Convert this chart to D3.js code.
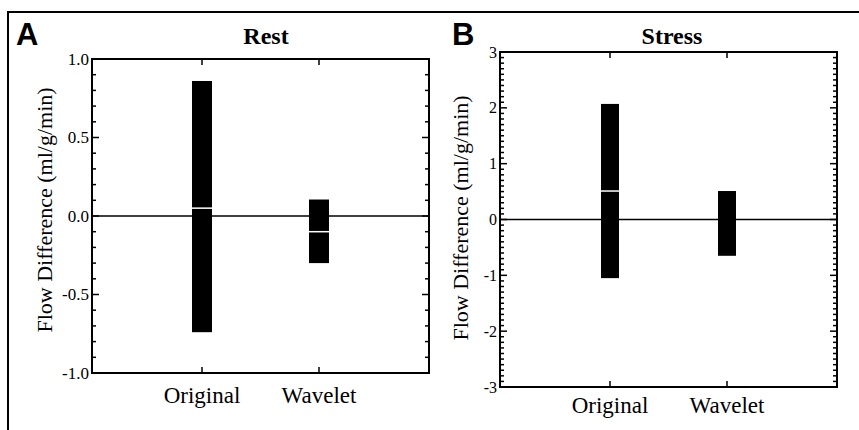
<!DOCTYPE html>
<html>
<head>
<meta charset="utf-8">
<script src="https://cdn.jsdelivr.net/npm/d3@7"></script>
<style>
  body { margin: 0; background: #fff; }
  svg { display: block; font-family: "Liberation Serif", "Times New Roman", Times, serif; }
</style>
</head>
<body>
<div id="chart"></div>
<script>
// categories and box values (top, median, bottom)
const categories = ["Original", "Wavelet"];
const restTop = [0.86, 0.105];
const restMedian = [0.05, -0.1];
const restBottom = [-0.74, -0.30];
const stressTop = [2.07, 0.51];
const stressMedian = [0.51, null];
const stressBottom = [-1.05, -0.65];
const restTicks = [1.0, 0.5, 0.0, -0.5, -1.0];
const stressTicks = [3, 2, 1, 0, -1, -2, -3];

const width = 859, height = 430;
const svg = d3.select("#chart").append("svg")
    .attr("width", width)
    .attr("height", height);

// outer frame (top and left only)
svg.append("path")
    .attr("d", "M8,430V12H859")
    .attr("fill", "none")
    .attr("stroke", "#000")
    .attr("stroke-width", 2);

function panel(opt) {
    const x = d3.scalePoint()
        .domain(categories)
        .range([opt.catX[0], opt.catX[1]]);
    const y = d3.scaleLinear()
        .domain([opt.min, opt.max])
        .range([opt.bottom, opt.top]);

    const g = svg.append("g");

    // letter
    g.append("text")
        .attr("x", opt.letterX).attr("y", 45)
        .attr("font-family", "'Liberation Sans', Arial, sans-serif")
        .attr("font-weight", "bold")
        .attr("font-size", 31)
        .text(opt.letter);

    // title
    g.append("text")
        .attr("x", opt.titleX).attr("y", 44)
        .attr("text-anchor", "middle")
        .attr("font-weight", "bold")
        .attr("font-size", 24)
        .text(opt.title);

    // minor ticks, inward on both sides
    const minor = d3.range(Math.round(opt.min * 10), Math.round(opt.max * 10) + 1).map(d => d / 10);
    g.append("g").selectAll("line.ml")
        .data(minor).enter().append("line")
        .attr("x1", opt.left).attr("x2", d => opt.left + (opt.isMajor(d) ? 7 : opt.minorLen))
        .attr("y1", d => y(d)).attr("y2", d => y(d))
        .attr("stroke", "#000").attr("stroke-width", 1.5);
    g.append("g").selectAll("line.mr")
        .data(minor).enter().append("line")
        .attr("x1", opt.right).attr("x2", d => opt.right - (opt.isMajor(d) ? 7 : opt.minorLen))
        .attr("y1", d => y(d)).attr("y2", d => y(d))
        .attr("stroke", "#000").attr("stroke-width", 1.5);

    // category ticks on top and bottom
    g.append("g").selectAll("line.ct")
        .data(categories).enter().append("line")
        .attr("x1", d => x(d)).attr("x2", d => x(d))
        .attr("y1", opt.top).attr("y2", opt.top + 6)
        .attr("stroke", "#000").attr("stroke-width", 1.5);
    g.append("g").selectAll("line.cb")
        .data(categories).enter().append("line")
        .attr("x1", d => x(d)).attr("x2", d => x(d))
        .attr("y1", opt.bottom).attr("y2", opt.bottom - 6)
        .attr("stroke", "#000").attr("stroke-width", 1.5);

    // y tick labels (plain hyphen minus as in the original)
    g.append("g").selectAll("text")
        .data(opt.ticks).enter().append("text")
        .attr("x", opt.left - 3)
        .attr("y", d => y(d))
        .attr("dy", "0.35em")
        .attr("text-anchor", "end")
        .attr("font-size", opt.tickSize)
        .text(d => opt.fmt(d).replace("\u2212", "-"));

    // category labels
    g.append("g").selectAll("text")
        .data(categories).enter().append("text")
        .attr("x", d => x(d))
        .attr("y", opt.catY)
        .attr("text-anchor", "middle")
        .attr("font-size", 23)
        .text(d => d);

    // y axis title
    g.append("text")
        .attr("transform", `translate(${opt.yTitleX},${opt.yTitleY}) rotate(-90)`)
        .attr("text-anchor", "middle")
        .attr("font-size", 22)
        .text("Flow Difference (ml/g/min)");

    // bars
    const data = categories.map((c, i) => ({c, top: opt.tops[i], med: opt.meds[i], bot: opt.bots[i]}));
    g.append("g").selectAll("rect")
        .data(data).enter().append("rect")
        .attr("x", d => x(d.c) - opt.barW / 2)
        .attr("width", opt.barW)
        .attr("y", d => y(d.top))
        .attr("height", d => y(d.bot) - y(d.top))
        .attr("fill", "#000");

    // zero line
    g.append("line")
        .attr("x1", opt.left).attr("x2", opt.right)
        .attr("y1", y(0)).attr("y2", y(0))
        .attr("stroke", "#000").attr("stroke-width", 1.5);

    // medians
    g.append("g").selectAll("line.med")
        .data(data.filter(d => d.med !== null)).enter().append("line")
        .attr("x1", d => x(d.c) - opt.barW / 2).attr("x2", d => x(d.c) + opt.barW / 2)
        .attr("y1", d => y(d.med)).attr("y2", d => y(d.med))
        .attr("stroke", "#fff").attr("stroke-width", 1.5);

    // plot frame
    g.append("rect")
        .attr("x", opt.left).attr("y", opt.top)
        .attr("width", opt.right - opt.left)
        .attr("height", opt.bottom - opt.top)
        .attr("fill", "none")
        .attr("stroke", "#000").attr("stroke-width", 2);
}

panel({
    letter: "A", letterX: 16, title: "Rest", titleX: 266,
    left: 92, right: 429, top: 59, bottom: 373,
    min: -1, max: 1, catX: [202, 319], barW: 20,
    ticks: restTicks, fmt: d3.format(".1f"), tickSize: 17,
    isMajor: d => Math.abs(d * 2 - Math.round(d * 2)) < 1e-6,
    minorLen: 4,
    tops: restTop, meds: restMedian, bots: restBottom,
    catY: 403, yTitleX: 52, yTitleY: 210
});

panel({
    letter: "B", letterX: 452, title: "Stress", titleX: 672,
    left: 500, right: 837, top: 52, bottom: 387,
    min: -3, max: 3, catX: [610, 727], barW: 18,
    ticks: stressTicks, fmt: d3.format("d"), tickSize: 16,
    isMajor: d => Math.abs(d - Math.round(d)) < 1e-6,
    minorLen: 4,
    tops: stressTop, meds: stressMedian, bots: stressBottom,
    catY: 413, yTitleX: 468, yTitleY: 218
});
</script>
</body>
</html>
